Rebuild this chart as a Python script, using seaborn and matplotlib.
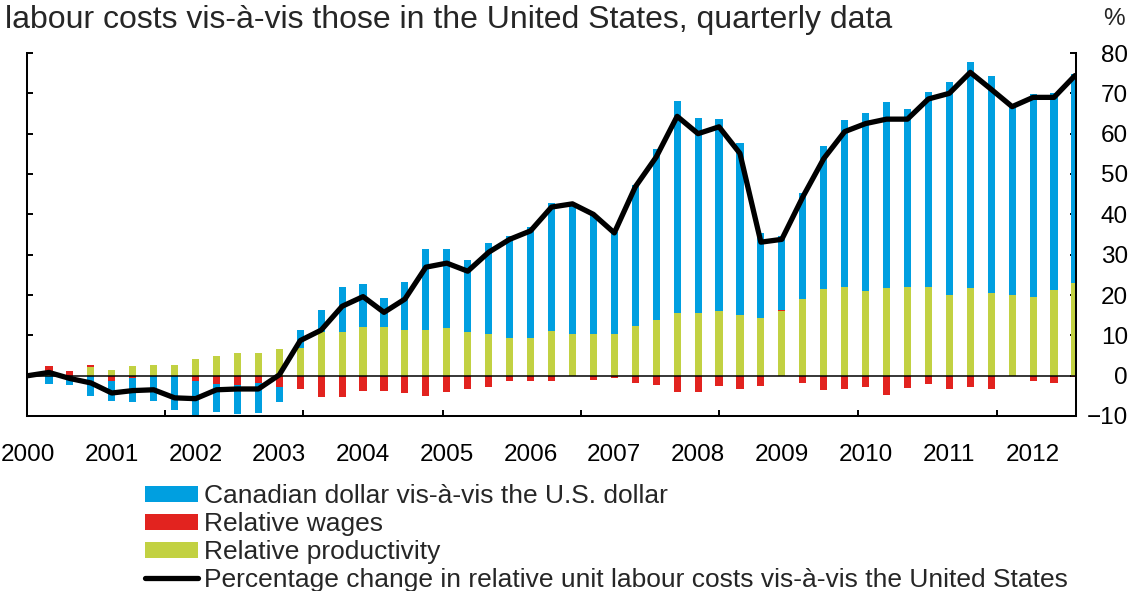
import numpy as np
import pandas as pd
import matplotlib
matplotlib.use("Agg")
import matplotlib.pyplot as plt
import seaborn as sns
from matplotlib.patches import Patch
from matplotlib.lines import Line2D

# Quarterly data, 2000Q1 - 2012Q3 (percentage points)
quarters = pd.period_range("2000Q1", "2012Q3", freq="Q").astype(str).tolist()

cad_usd = [0.0, -2.0, -2.2, -5.1, -5.0, -6.0, -6.4, -8.4, -9.0, -6.8,
           -7.2, -7.6, -3.9, 4.3, 5.6, 11.0, 10.8, 7.2, 11.8, 20.3,
           19.6, 17.8, 22.4, 25.3, 27.6, 31.8, 31.9, 29.8, 25.1, 34.9,
           42.4, 52.5, 48.5, 47.6, 42.7, 21.1, 18.2, 26.5, 35.4, 41.4,
           44.1, 46.0, 44.0, 48.4, 52.9, 56.1, 53.8, 46.8, 50.3, 48.7,
           51.8]
rel_wages = [0.0, 1.3, 1.1, 0.55, -1.2, -0.6, 0.0, 0.0, -1.2, -2.1,
             -2.2, -1.7, -2.7, -3.2, -5.4, -5.2, -3.7, -3.7, -4.4, -5.1,
             -4.1, -3.3, -2.9, -1.2, -1.4, -1.4, 0.0, -1.1, -0.7, -1.7,
             -2.2, -4.0, -4.1, -2.5, -3.3, -2.5, 0.3, -1.9, -3.6, -3.3,
             -2.9, -4.7, -3.1, -2.1, -3.3, -2.9, -3.4, -0.2, -1.2, -1.7,
             -0.4]
rel_productivity = [0.0, 1.0, 0.0, 2.15, 1.5, 2.5, 2.7, 2.7, 4.2, 5.0,
                    5.6, 5.5, 6.5, 6.9, 10.8, 10.9, 12.0, 12.0, 11.3, 11.2,
                    11.8, 10.8, 10.4, 9.3, 9.3, 11.0, 10.4, 10.4, 10.4, 12.3,
                    13.9, 15.6, 15.5, 16.1, 15.1, 14.3, 16.1, 18.9, 21.5, 21.9,
                    21.1, 21.8, 22.1, 21.9, 19.9, 21.7, 20.5, 20.1, 19.5, 21.3,
                    23.0]
ulc_change = [0.0, 0.8, -0.7, -1.8, -4.3, -3.7, -3.5, -5.5, -5.7, -3.5,
              -3.3, -3.3, 0.2, 8.7, 11.3, 17.2, 19.6, 15.7, 19.0, 26.9,
              27.9, 25.9, 30.6, 33.8, 35.9, 41.8, 42.6, 40.0, 35.4, 46.8,
              54.2, 64.3, 60.0, 61.7, 55.1, 33.1, 33.8, 44.3, 53.8, 60.5,
              62.5, 63.6, 63.6, 68.6, 70.0, 75.2, 71.0, 66.7, 69.0, 69.0,
              74.4]
year_labels = [str(y) for y in range(2000, 2013)]

BLUE = "#009FE0"
RED = "#E2231F"
GREEN = "#C2D142"

df = pd.DataFrame({
    "quarter": quarters,
    "cad_usd": cad_usd,
    "rel_wages": rel_wages,
    "rel_productivity": rel_productivity,
    "ulc_change": ulc_change,
})
df["pos"] = np.arange(len(df))

sns.set_theme(style="white")
plt.rcParams["font.family"] = ["Liberation Sans", "DejaVu Sans"]

fig = plt.figure(figsize=(11.43, 5.91), dpi=100)
ax = fig.add_axes([27 / 1143, 1 - 416 / 591, (1076 - 27) / 1143, (416 - 53) / 591])

# stacked bars: positives stack up from zero, negatives stack down
pos_base = np.zeros(len(df))
neg_base = np.zeros(len(df))
for col, color in [("rel_productivity", GREEN), ("rel_wages", RED), ("cad_usd", BLUE)]:
    v = df[col].to_numpy()
    bottom = np.where(v >= 0, pos_base, neg_base)
    ax.bar(df["pos"], v, bottom=bottom, width=0.34, color=color, linewidth=0, zorder=2)
    pos_base += np.clip(v, 0, None)
    neg_base += np.clip(v, None, 0)

ax.axhline(0, color="black", lw=1.1, zorder=3)
sns.lineplot(data=df, x="pos", y="ulc_change", color="black", linewidth=3.8,
             ax=ax, zorder=4, legend=False)

ax.set_xlim(-0.05, 50.05)
ax.set_ylim(-10, 80)
ax.set_xlabel("")
ax.set_ylabel("")

# x axis: year labels at Q1, small inward ticks in between
ax.set_xticks(np.arange(0, 49, 4))
ax.set_xticklabels(year_labels)
ax.set_xticks([6.55, 13.15, 19.8, 26.4, 33.0, 39.65, 46.3], minor=True)
ax.tick_params(axis="x", which="major", length=0, pad=20, labelsize=17.5, colors="black")
ax.tick_params(axis="x", which="minor", direction="in", length=4.5, width=1.4,
               bottom=True, color="black")

# y axis: labels on the right, inward ticks on both sides
ax.set_yticks(range(-10, 81, 10))
ax.tick_params(axis="y", direction="in", length=4.5, width=1.4, left=True, right=True,
               labelleft=False, labelright=True, pad=37.4, labelsize=17.5, colors="black")
for tick in ax.yaxis.get_major_ticks():
    tick.label2.set_horizontalalignment("right")

for side in ["left", "right", "bottom"]:
    ax.spines[side].set_visible(True)
    ax.spines[side].set_color("black")
    ax.spines[side].set_linewidth(1.45)
ax.spines["top"].set_visible(False)

fig.text(1125 / 1143, 1 - 19 / 591, "%", ha="right", va="center", fontsize=17.5)
fig.text(5 / 1143, 1 - 28 / 591,
         "labour costs vis-à-vis those in the United States, quarterly data",
         ha="left", va="baseline", fontsize=23)

handles = [
    Patch(color=BLUE, linewidth=0),
    Patch(color=RED, linewidth=0),
    Patch(color=GREEN, linewidth=0),
    Line2D([], [], color="black", linewidth=3.8),
]
labels = [
    "Canadian dollar vis-à-vis the U.S. dollar",
    "Relative wages",
    "Relative productivity",
    "Percentage change in relative unit labour costs vis-à-vis the United States",
]
fig.legend(handles, labels, loc="upper left", bbox_to_anchor=(145 / 1143, 1 - 484 / 591),
           frameon=False, fontsize=19, handlelength=2.0, handleheight=0.55,
           handletextpad=0.25, labelspacing=0.15, borderpad=0, borderaxespad=0)

fig.savefig("out.png", dpi=100)
